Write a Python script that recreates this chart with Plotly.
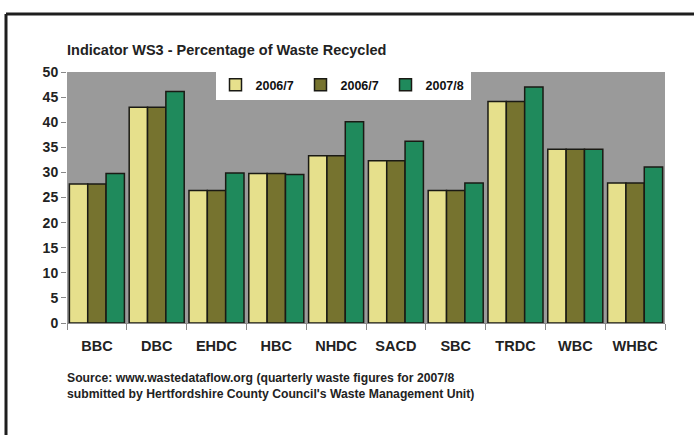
import plotly.graph_objects as go

categories = ["BBC", "DBC", "EHDC", "HBC", "NHDC", "SACD", "SBC", "TRDC", "WBC", "WHBC"]
series_names = ["2006/7", "2006/7", "2007/8"]
vals_a = [27.7, 43.0, 26.4, 29.8, 33.3, 32.3, 26.4, 44.1, 34.6, 27.9]
vals_b = [27.7, 43.0, 26.4, 29.8, 33.3, 32.3, 26.4, 44.1, 34.6, 27.9]
vals_c = [29.8, 46.1, 29.9, 29.6, 40.1, 36.2, 27.9, 47.0, 34.6, 31.1]
y_ticks = [0, 5, 10, 15, 20, 25, 30, 35, 40, 45, 50]

colors = ["#e6e08c", "#76732f", "#1f8a5c"]
W, H = 694, 435
L, R, T, B = 67, 29, 72, 112
pw, ph = W - L - R, H - T - B

def px(x):
    return (x - L) / pw

def py(y):
    return (H - B - y) / ph

fig = go.Figure()
for name, vals, col in zip(series_names, [vals_a, vals_b, vals_c], colors):
    fig.add_trace(go.Bar(
        x=categories, y=vals, name=name,
        marker=dict(color=col, line=dict(color="#1a1a14", width=1.5)),
    ))

font_fam = "Liberation Sans, Arial, sans-serif"
fig.update_layout(
    width=W, height=H,
    margin=dict(l=L, r=R, t=T, b=B),
    paper_bgcolor="white",
    plot_bgcolor="#9a9a9a",
    barmode="group",
    bargap=0.08,
    bargroupgap=0.0,
    showlegend=True,
    legend=dict(
        orientation="h",
        x=px(343), xanchor="center",
        y=py(85), yanchor="middle",
        bgcolor="white",
        font=dict(family=font_fam, size=12.5, color="#111", weight="bold"),
        entrywidth=40,
        itemwidth=30,
        traceorder="normal",
    ),
    font=dict(family=font_fam, color="#222"),
    xaxis=dict(
        showgrid=False,
        ticks="outside", tickson="boundaries", ticklen=6, tickcolor="#888",
        showline=True, linecolor="#888", linewidth=1,
        tickfont=dict(family=font_fam, size=14.5, color="#222", weight="bold"),
        ticklabelstandoff=10,
    ),
    yaxis=dict(
        range=[0, 50], tickvals=y_ticks,
        showgrid=False, zeroline=False,
        ticks="outside", ticklen=5, tickcolor="#888",
        tickfont=dict(family=font_fam, size=14, color="#222", weight="bold"),
    ),
    annotations=[
        dict(text="<b>Indicator WS3 - Percentage of Waste Recycled</b>",
             xref="paper", yref="paper", x=px(65), y=py(50),
             xanchor="left", yanchor="middle", showarrow=False,
             font=dict(family=font_fam, size=14.5, color="#222")),
        dict(text="<b>Source: www.wastedataflow.org (quarterly waste figures for 2007/8<br>"
                  "submitted by Hertfordshire County Council's Waste Management Unit)</b>",
             xref="paper", yref="paper", x=px(65), y=py(386),
             xanchor="left", yanchor="middle", align="left", showarrow=False,
             font=dict(family=font_fam, size=12.2, color="#222")),
    ],
    shapes=[
        dict(type="line", xref="paper", yref="paper",
             x0=px(6), y0=py(14), x1=px(700), y1=py(14),
             line=dict(color="#1e1e1e", width=3)),
        dict(type="line", xref="paper", yref="paper",
             x0=px(6), y0=py(14), x1=px(6), y1=py(445),
             line=dict(color="#1e1e1e", width=3)),
    ],
)

fig.write_html("out.html", config={"displayModeBar": False},
               post_script="document.body.style.margin='0';")
